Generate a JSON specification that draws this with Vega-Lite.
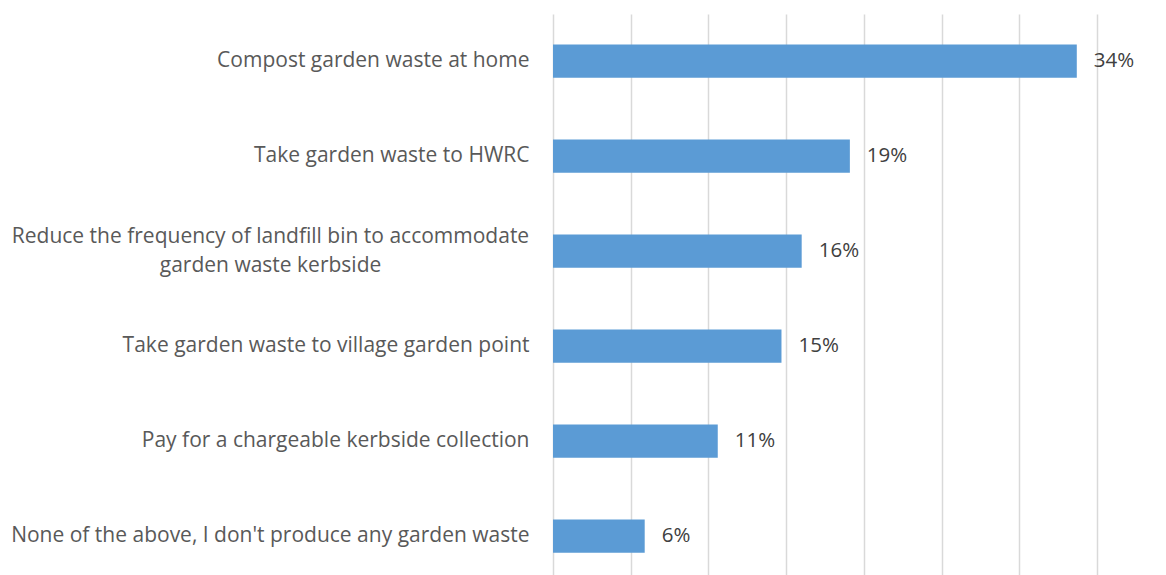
{
  "$schema": "https://vega.github.io/schema/vega-lite/v6.json",
  "width": 544,
  "height": 561,
  "autosize": {"type": "none"},
  "padding": {"left": 553, "top": 14, "right": 69, "bottom": 0},
  "background": "white",
  "config": {"view": {"stroke": null}},
  "data": {
    "values": [
      {"option": "Compost garden waste at home", "share": 0.337},
      {"option": "Take garden waste to HWRC", "share": 0.191},
      {"option": "Reduce the frequency of landfill bin to accommodate|garden waste kerbside", "share": 0.16},
      {"option": "Take garden waste to village garden point", "share": 0.147},
      {"option": "Pay for a chargeable kerbside collection", "share": 0.106},
      {"option": "None of the above, I don't produce any garden waste", "share": 0.059}
    ]
  },
  "encoding": {
    "y": {
      "field": "option",
      "type": "nominal",
      "sort": null,
      "title": null,
      "scale": {"paddingInner": 0.65, "paddingOuter": 0.2776, "align": 0.578},
      "axis": {
        "ticks": false,
        "domain": false,
        "labelExpr": "split(datum.value, '|')",
        "labelFont": "Open Sans",
        "labelFontSize": 21,
        "labelColor": "#595959",
        "labelLineHeight": 29,
        "labelLimit": 600,
        "labelAlign": {"condition": {"test": "indexof(datum.value, '|') >= 0", "value": "center"}, "value": "right"},
        "labelPadding": {"condition": {"test": "indexof(datum.value, '|') >= 0", "value": 283}, "value": 24},
        "labelOffset": {"condition": {"test": "indexof(datum.value, '|') >= 0", "value": -14}, "value": 0}
      }
    },
    "x": {
      "field": "share",
      "type": "quantitative",
      "title": null,
      "scale": {"domain": [0, 0.35], "nice": false},
      "axis": {
        "values": [0, 0.05, 0.1, 0.15, 0.2, 0.25, 0.3, 0.35],
        "labels": false,
        "ticks": false,
        "domain": false,
        "grid": true,
        "gridColor": "#d9d9d9",
        "gridWidth": 1.5
      }
    }
  },
  "layer": [
    {"mark": {"type": "bar", "color": "#5b9bd5"}},
    {
      "mark": {"type": "text", "align": "left", "baseline": "middle", "dx": 17, "font": "Open Sans", "fontSize": 20.5, "color": "#404040"},
      "encoding": {"text": {"field": "share", "type": "quantitative", "format": ".0%"}}
    }
  ]
}
